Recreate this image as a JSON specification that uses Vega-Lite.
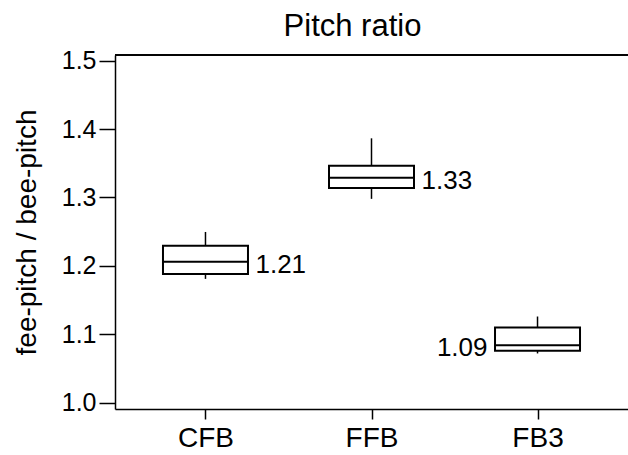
{
  "$schema": "https://vega.github.io/schema/vega-lite/v6.json",
  "width": 513,
  "height": 354,
  "autosize": {"type": "none"},
  "padding": {"left": 115, "top": 55, "right": 0, "bottom": 46},
  "background": "white",
  "config": {
    "font": "Liberation Sans",
    "view": {"stroke": null},
    "axis": {"domainColor": "black", "domainWidth": 1.5, "tickColor": "black", "tickWidth": 1.5, "labelColor": "black", "titleColor": "black", "grid": false, "labelFont": "Liberation Sans", "titleFont": "Liberation Sans"}
  },
  "title": {"text": "Pitch ratio", "fontSize": 31, "fontWeight": "normal", "font": "Liberation Sans", "color": "black", "anchor": "middle", "dx": -19, "offset": 6},
  "data": {
    "values": [
      {"group": "CFB", "wlo": 1.181, "q1": 1.188, "median": 1.206, "q3": 1.2295, "whi": 1.2496, "label": "1.21"},
      {"group": "FFB", "wlo": 1.298, "q1": 1.314, "median": 1.329, "q3": 1.3465, "whi": 1.3865, "label": "1.33"},
      {"group": "FB3", "wlo": 1.072, "q1": 1.076, "median": 1.084, "q3": 1.110, "whi": 1.126, "label": "1.09"}
    ]
  },
  "encoding": {
    "x": {"field": "group", "type": "nominal", "sort": ["CFB", "FFB", "FB3"],
      "scale": {"type": "point", "padding": 0.545},
      "axis": {"title": null, "labelAngle": 0, "labelFontSize": 28, "tickSize": 10, "labelPadding": 5}}
  },
  "layer": [
    {
      "mark": {"type": "rule", "color": "black", "strokeWidth": 1.5},
      "encoding": {
        "y": {"field": "wlo", "type": "quantitative",
          "scale": {"domain": [0.9908, 1.5083], "nice": false, "zero": false},
          "axis": {"title": "fee-pitch / bee-pitch", "titleFontSize": 28, "titleFontWeight": "normal", "titlePadding": 20, "values": [1.0, 1.1, 1.2, 1.3, 1.4, 1.5], "format": ".1f", "labelFontSize": 25, "tickSize": 16, "labelPadding": 3}},
        "y2": {"field": "whi"}
      }
    },
    {
      "mark": {"type": "rule", "color": "black", "strokeWidth": 1.5},
      "encoding": {"y": {"datum": 1.5083, "type": "quantitative"}, "x": null}
    },
    {
      "mark": {"type": "bar", "fill": "white", "stroke": "black", "strokeWidth": 2, "size": 85},
      "encoding": {
        "y": {"field": "q1", "type": "quantitative"},
        "y2": {"field": "q3"}
      }
    },
    {
      "mark": {"type": "tick", "color": "black", "opacity": 1, "size": 85, "thickness": 2},
      "encoding": {
        "y": {"field": "median", "type": "quantitative"}
      }
    },
    {
      "transform": [{"filter": "datum.group != 'FB3'"}],
      "mark": {"type": "text", "align": "left", "baseline": "middle", "dx": 50, "dy": 3, "fontSize": 26, "color": "black"},
      "encoding": {
        "y": {"field": "median", "type": "quantitative"},
        "text": {"field": "label"}
      }
    },
    {
      "transform": [{"filter": "datum.group == 'FB3'"}],
      "mark": {"type": "text", "align": "right", "baseline": "middle", "dx": -50, "dy": 3, "fontSize": 26, "color": "black"},
      "encoding": {
        "y": {"field": "median", "type": "quantitative"},
        "text": {"field": "label"}
      }
    }
  ]
}
